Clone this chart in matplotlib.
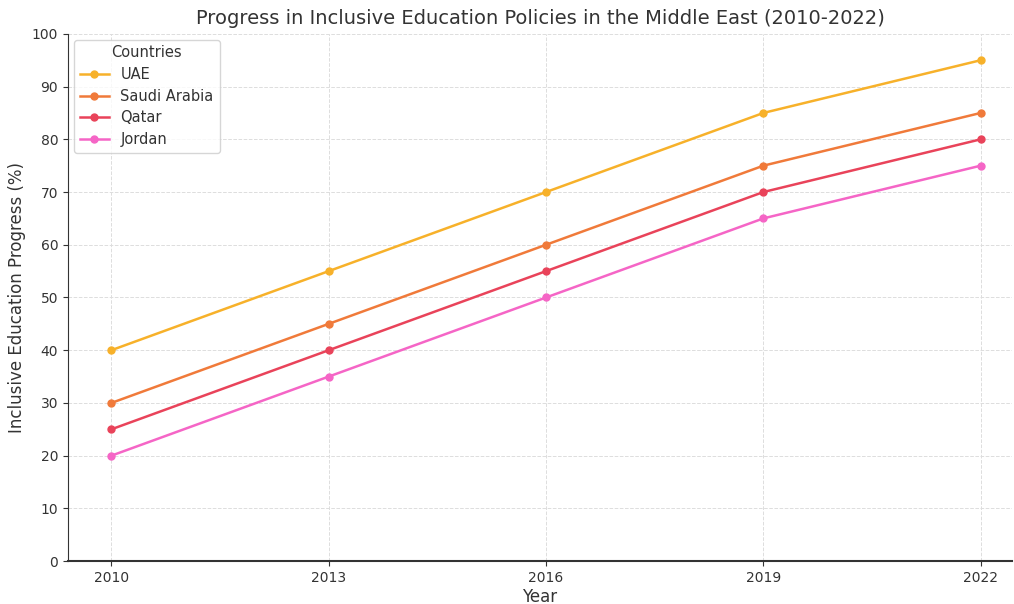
import matplotlib.pyplot as plt

years = [2010, 2013, 2016, 2019, 2022]
uae = [40, 55, 70, 85, 95]
saudi = [30, 45, 60, 75, 85]
qatar = [25, 40, 55, 70, 80]
jordan = [20, 35, 50, 65, 75]

series = [("UAE", uae, "#f7b12a"), ("Saudi Arabia", saudi, "#f07a3a"),
          ("Qatar", qatar, "#e9435a"), ("Jordan", jordan, "#f565c6")]

fig = plt.figure(figsize=(10.14, 6.04), dpi=100)
ax = fig.add_axes([0.067, 0.071, 0.931, 0.873])

for name, vals, col in series:
    ax.plot(years, vals, marker="o", markersize=5, linewidth=1.8, color=col, label=name)

ax.set_xlim(2009.4, 2022.43)
ax.set_ylim(0, 100)
ax.set_xticks(years)
ax.set_yticks(range(0, 101, 10))
ax.grid(True, linestyle="--", color="#dddddd", linewidth=0.7)
ax.spines["top"].set_visible(False)
ax.spines["right"].set_visible(False)
ax.spines["left"].set_color("#333333")
ax.spines["bottom"].set_color("#333333")
ax.spines["bottom"].set_linewidth(1.5)
ax.tick_params(colors="#333333", labelsize=10)

ax.set_title("Progress in Inclusive Education Policies in the Middle East (2010-2022)",
             fontsize=14, color="#333333", pad=7)
ax.set_xlabel("Year", fontsize=12, color="#333333", labelpad=2)
ax.set_ylabel("Inclusive Education Progress (%)", fontsize=12, color="#333333")
leg = ax.legend(title="Countries", loc="upper left", fontsize=10.5, title_fontsize=10.5,
                labelspacing=0.45, borderaxespad=0.4)
leg.get_title().set_color("#333333")
for t in leg.get_texts():
    t.set_color("#333333")

fig.savefig("out.png", dpi=100)
